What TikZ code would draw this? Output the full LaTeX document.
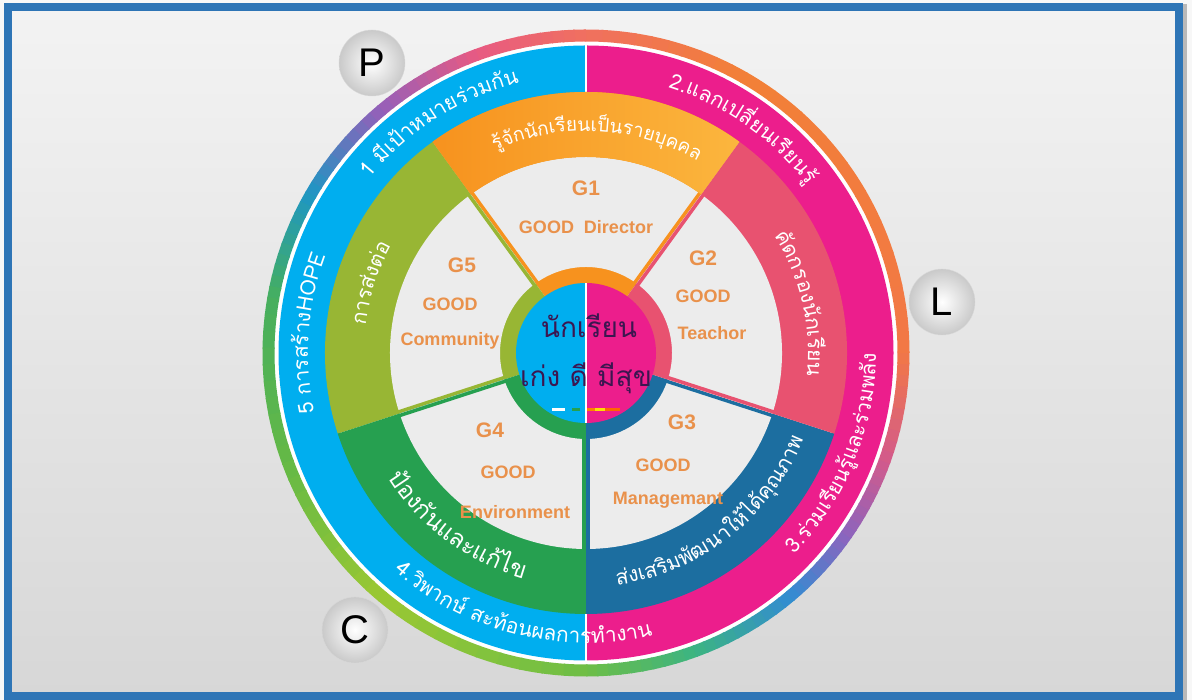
\documentclass[tikz,border=0pt]{standalone}
\usepackage{fontspec}
\setmainfont{Liberation Sans}
\newfontfamily\thaifont[Script=Thai]{Loma}
\usetikzlibrary{decorations.text}
\definecolor{frameblue}{RGB}{46,117,182}
\definecolor{bgtop}{RGB}{243,243,243}
\definecolor{bgbot}{RGB}{215,215,215}
\definecolor{bandblue}{RGB}{0,174,239}
\definecolor{bandpink}{RGB}{236,30,140}
\definecolor{gone}{RGB}{247,146,30}
\definecolor{goneb}{RGB}{251,182,62}
\definecolor{gtwo}{RGB}{232,82,112}
\definecolor{gthree}{RGB}{28,110,160}
\definecolor{gfour}{RGB}{38,160,80}
\definecolor{gfive}{RGB}{152,182,52}
\definecolor{innergray}{RGB}{236,236,236}
\definecolor{labelorange}{RGB}{233,145,75}
\definecolor{hubtext}{RGB}{60,22,80}
\definecolor{rA}{RGB}{110,190,70}
\definecolor{rB}{RGB}{60,180,130}
\definecolor{rC}{RGB}{50,140,210}
\definecolor{rD}{RGB}{140,100,190}
\definecolor{rE}{RGB}{210,90,140}
\definecolor{rF}{RGB}{242,120,70}
\definecolor{rG}{RGB}{242,128,55}
\definecolor{rH}{RGB}{240,112,95}
\definecolor{rI}{RGB}{232,90,130}
\definecolor{rJ}{RGB}{150,95,185}
\definecolor{rK}{RGB}{30,150,195}
\definecolor{rL}{RGB}{70,175,95}
\definecolor{rM}{RGB}{100,185,70}
\definecolor{rN}{RGB}{155,200,50}
\def\arctext#1#2#3#4#5{\path[decorate,decoration={text along path,text align=center,
  text={|\thaifont\fontsize{#4}{#4}\selectfont\color{white}|#5}}]
  (#2:#1) arc[start angle=#2,end angle=#3,radius=#1];}

\begin{document}
\begin{tikzpicture}[x=1pt,y=1pt,
  glab/.style={font=\bfseries\fontsize{21}{21}\selectfont,text=labelorange},
  good/.style={font=\bfseries\fontsize{18}{18}\selectfont,text=labelorange},
  ball/.style={circle,minimum size=66,inner sep=0,shading=radial,inner color=white,
    outer color=gray!42,draw=gray!30,font=\fontsize{40}{40}\selectfont},
  hub/.style={font=\thaifont\fontsize{28}{28}\selectfont,text=hubtext}]
\useasboundingbox (0,0) rectangle (1192,700);
\fill[gray!6] (0,0) rectangle (1192,700);
\shade[top color=bgtop,bottom color=bgbot] (8,3) rectangle (1178,693);
\fill[gray!55] (1182,0) rectangle (1187,696);
\draw[frameblue,line width=8] (8,3.5) rectangle (1178.5,693);
\begin{scope}[shift={(586,347)}]
\fill[white] (0,0) circle (312);
\foreach \a/\b/\ca/\cb in {-90/-70/rA/rB,-70/-50/rB/rC,-50/-35/rC/rD,-35/-20/rD/rE,
  -20/0/rE/rF,0/60/rF/rG,60/90/rG/rH,90/110/rH/rI,110/130/rI/rJ,130/150/rJ/rK,
  150/170/rK/rL,170/200/rL/rM,200/230/rM/rN,230/270/rN/rA}{
  \foreach \i in {0,...,9}{
    \pgfmathsetmacro\s{\a+(\b-\a)*\i/10}
    \pgfmathsetmacro\e{\a+(\b-\a)*(\i+1)/10+0.3}
    \pgfmathtruncatemacro\p{\i*10+5}
    \draw[draw=\cb!\p!\ca,line width=12] (\s:317.5) arc[start angle=\s,end angle=\e,radius=317.5];
  }
}
\fill[bandblue] (90:307.5) arc[start angle=90,end angle=270,radius=307.5] -- (270:259) arc[start angle=270,end angle=90,radius=259] -- cycle;
\fill[bandpink] (-90:307.5) arc[start angle=-90,end angle=90,radius=307.5] -- (90:259) arc[start angle=90,end angle=-90,radius=259] -- cycle;
\draw[white,line width=1.5] (90:258) -- (90:308) (270:258) -- (270:308);
\foreach \a/\c in {54/gone,126/gfive,198/gfour,270/gthree,342/gtwo}{
  \pgfmathsetmacro\b{\a+72}
  \fill[fill=\c] (\a:68) -- (\a:261) arc[start angle=\a,end angle=\b,radius=261] -- (\b:68) arc[start angle=\b,end angle=\a,radius=68] -- cycle;
  \fill[innergray] (\a:86) -- (\a:196) arc[start angle=\a,end angle=\b,radius=196] -- (\b:86) arc[start angle=\b,end angle=\a,radius=86] -- cycle;
  \draw[draw=\c,line width=3.5] ([shift={({\a+90}:1.9)}]\a:84) -- ([shift={({\a+90}:1.9)}]\a:197);
  \draw[draw=\c,line width=3.5] ([shift={({\b-90}:1.9)}]\b:84) -- ([shift={({\b-90}:1.9)}]\b:197);
}
\shade[left color=gone,right color=goneb] (54:196) arc[start angle=54,end angle=126,radius=196] -- (126:261) arc[start angle=126,end angle=54,radius=261] -- cycle;
\fill[bandblue] (90:70) arc[start angle=90,end angle=270,radius=70] -- cycle;
\fill[bandpink] (-90:70) arc[start angle=-90,end angle=90,radius=70] -- cycle;
\draw[white,line width=1.2] (90:70) -- (270:70);
\foreach \x/\y/\c in {-34/-21/white,-21/-14/bandblue,-14/-6/gfour,1/9/orange,9/19/yellow!80!orange,19/34/orange!80!red}
  \draw[draw=\c,line width=3] (\x,-57) -- (\y,-57);
\arctext{278}{162.5}{82.5}{21}{1 {มี}เ{ป้}าหมาย{ร่}วม{กั}น}
\arctext{278}{95}{15}{21}{2.แลกเป{ลี่}ยนเ{รี}ยน{รู้}}
\arctext{290}{-62}{18}{21}{3.{ร่}วมเ{รี}ยน{รู้}และ{ร่}วมพ{ลั}ง}
\arctext{290}{216}{296}{21}{4.{วิ}พาก{ษ์} สะ{ท้}อนผลการ{ทำ}งาน}
\arctext{278}{216}{136}{21}{5 การส{ร้}างHOPE}
\arctext{222}{127}{47}{19}{{รู้}{จั}ก{นั}กเ{รี}ยนเ{ป็}นราย{บุ}คคล}
\arctext{222}{50}{-24}{21}{{คั}ดกรอง{นั}กเ{รี}ยน}
\arctext{234}{-92}{-12}{21}{{ส่}งเส{ริ}ม{พั}ฒนาใ{ห้}ไ{ด้}{คุ}ณภาพ}
\arctext{234}{200}{267}{24}{{ป้}อง{กั}นและแ{ก้}ไข}
\arctext{222}{190}{134}{21}{การ{ส่}ง{ต่}อ}
\node[hub] (hubtop) at (3,27) {นักเรียน};
\node[hub] (hubbot) at (0,-25) {เก่ง ดี มีสุข};
\node[glab] (gone) at (0,165) {G1};
\node[good] (gonetxt) at (0,126) {GOOD\ \ Director};
\node[glab] (gtwo) at (117,95) {G2};
\node[good] (gtwogood) at (117,57) {GOOD};
\node[good] (gtwotxt) at (126,20) {Teachor};
\node[glab] (gthree) at (96,-69) {G3};
\node[good] (gthreegood) at (77,-112) {GOOD};
\node[good] (gthreetxt) at (82,-147) {Managemant};
\node[glab] (gfour) at (-96,-77) {G4};
\node[good] (gfourgood) at (-78,-119) {GOOD};
\node[good] (gfourtxt) at (-71,-159) {Environment};
\node[glab] (gfive) at (-124,88) {G5};
\node[good] (gfivegood) at (-136,49) {GOOD};
\node[good] (gfivetxt) at (-136,12) {Community};
\node[ball] (p) at (-214,290) {P};
\node[ball] (l) at (356,51) {L};
\node[ball] (c) at (-231,-277) {C};
\end{scope}
\end{tikzpicture}
\end{document}
